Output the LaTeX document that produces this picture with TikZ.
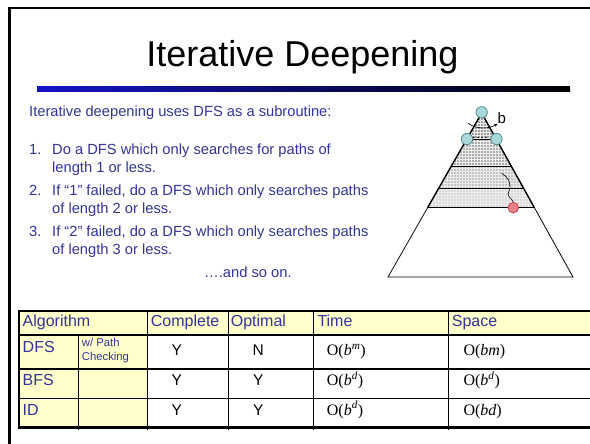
\documentclass[tikz,border=0pt]{standalone}
\usepackage{fontspec}
\setmainfont{Liberation Sans}
\newfontfamily\tmsfont{Liberation Serif}
\usetikzlibrary{arrows.meta,patterns}
\definecolor{txtblue}{RGB}{51,51,153}
\definecolor{cellyellow}{RGB}{255,255,204}
\definecolor{tealfill}{RGB}{168,216,218}
\definecolor{tealedge}{RGB}{80,130,135}
\definecolor{redfill}{RGB}{240,128,135}
\definecolor{rededge}{RGB}{190,60,70}
\begin{document}
\begin{tikzpicture}[x=1pt,y=-1pt,
  txt/.style={inner sep=0pt, anchor=base west, text=txtblue, font=\fontsize{14.7}{17}\selectfont},
  hdr/.style={inner sep=0pt, anchor=base west, text=txtblue, font=\fontsize{16}{18}\selectfont},
  small/.style={inner sep=0pt, anchor=base west, text=txtblue, font=\fontsize{11.3}{13}\selectfont},
  yn/.style={inner sep=0pt, anchor=base, font=\fontsize{15.5}{18}\selectfont},
  cplx/.style={inner sep=0pt, anchor=base west, font=\tmsfont\fontsize{16}{18}\selectfont},
  tealcirc/.style={circle, draw=tealedge, fill=tealfill, line width=0.7pt, minimum size=11.4pt, inner sep=0pt},
  redcirc/.style={circle, draw=rededge, fill=redfill, line width=0.7pt, minimum size=10.6pt, inner sep=0pt},
  band/.style={pattern=grid, pattern color=white!85!gray},
  thinline/.style={line width=1.1pt}]
\useasboundingbox (0,0) rectangle (590,444);
\fill[white] (0,0) rectangle (590,444);
% slide border
\draw[line width=2pt] (8,8) -- (590,8);
\draw[line width=3pt] (9.5,7) -- (9.5,444);
% title
\node[inner sep=0pt, anchor=base, font=\fontsize{36}{40}\selectfont] (title) at (302.5,67) {Iterative Deepening};
\shade[left color={rgb,255:red,20;green,20;blue,200}, right color=black] (37,86.7) rectangle (570,91.2);
% body text
\node[txt] (intro) at (29,116.5) {Iterative deepening uses DFS as a subroutine:};
\node[txt] (n1) at (29,154.3) {1.};
\node[txt] (l1a) at (52,154.3) {Do a DFS which only searches for paths of};
\node[txt] (l1b) at (52,172.3) {length 1 or less.};
\node[txt] (n2) at (29,196) {2.};
\node[txt] (l2a) at (52,196) {If “1” failed, do a DFS which only searches paths};
\node[txt] (l2b) at (52,213.5) {of length 2 or less.};
\node[txt] (n3) at (29,236.8) {3.};
\node[txt] (l3a) at (52,236.8) {If “2” failed, do a DFS which only searches paths};
\node[txt] (l3b) at (52,254.8) {of length 3 or less.};
\node[txt] (soon) at (204,277.3) {….and so on.};
% triangle
\begin{scope}
\clip (481.7,113) -- (388,277) -- (573,277) -- cycle;
\fill[gray!75] (380,100) rectangle (590,139);
\fill[gray!64] (380,139) rectangle (590,166.7);
\fill[gray!46] (380,166.7) rectangle (590,188.3);
\fill[gray!30] (380,188.3) rectangle (590,207.7);
\fill[band] (380,100) rectangle (590,207.7);
\draw[line width=0.8pt] (380,139) -- (590,139);
\draw[line width=0.8pt] (380,166.7) -- (590,166.7);
\draw[line width=0.8pt] (380,188.3) -- (590,188.3);
\draw[line width=0.8pt] (380,207.7) -- (590,207.7);
\end{scope}
\draw[line width=0.8pt] (481.7,113) -- (388,277) -- (573,277) -- cycle;
\draw[line width=1.3pt] (427.6,207.7) -- (481.7,113) -- (534.4,207.7);
\foreach \xx in {474,478,482,486} \fill (\xx,137.3) circle (0.8);
\node[tealcirc] (root) at (481.7,112.3) {};
\node[tealcirc] (cl) at (467,139) {};
\node[tealcirc] (cr) at (496.5,139) {};
\node[inner sep=0pt, anchor=base west, font=\fontsize{15}{16}\selectfont] (b) at (497.5,123.5) {b};
\coordinate (arcstart) at (468.3,123.3);
\draw[line width=0.6pt, -{Stealth[length=3.5pt,width=3pt]}] (arcstart) .. controls (476,129.5) and (489,129) .. (b.south west);
\node[redcirc] (goal) at (513.3,207.7) {};
\coordinate (wstart) at (501.7,173.3);
\draw[line width=0.6pt] (wstart) .. controls (508,177) and (512,183) .. (509,191) .. controls (506,197) and (512,198) .. (goal.north);
% table fills
\fill[cellyellow] (19,310.7) rectangle (590,335);
\fill[cellyellow] (19,335) rectangle (147.3,427.3);
% table lines
\draw[thinline] (19,335) -- (590,335);
\draw[thinline] (19,369) -- (590,369);
\draw[thinline] (19,398.3) -- (590,398.3);
\draw[thinline] (78.3,335) -- (78.3,430);
\foreach \xx in {147.3,228.7,313.3,448.7} \draw[thinline] (\xx,310.7) -- (\xx,430);
\draw[line width=2pt] (19,310.7) -- (590,310.7);
\draw[line width=3pt] (19,427.3) -- (590,427.3);
\draw[line width=2pt] (19,309.7) -- (19,428.8);
% table text
\node[hdr] (hAlg) at (22.5,326.5) {Algorithm};
\node[hdr] (hCom) at (150.7,326.5) {Complete};
\node[hdr] (hOpt) at (230.7,326.5) {Optimal};
\node[hdr] (hTim) at (317.3,326.5) {Time};
\node[hdr] (hSpa) at (451.7,326.5) {Space};
\node[hdr] (dfs) at (22.5,352.5) {DFS};
\node[small] (wp1) at (81.7,346) {w/ Path};
\node[small] (wp2) at (81.7,360) {Checking};
\node[hdr] (bfs) at (22.5,385.7) {BFS};
\node[hdr] (id) at (22.5,415) {ID};
\node[yn] (c1) at (176.7,355.5) {Y};
\node[yn] (o1) at (258.3,355.5) {N};
\node[yn] (c2) at (176.7,385.7) {Y};
\node[yn] (o2) at (258.3,385.7) {Y};
\node[yn] (c3) at (176.7,415.5) {Y};
\node[yn] (o3) at (258.3,415.5) {Y};
\node[cplx] (t1) at (326.7,355.7) {O(\textit{b}\textsuperscript{\textit{m}})};
\node[cplx] (s1) at (463.3,355.7) {O(\textit{bm})};
\node[cplx] (t2) at (326.7,385.7) {O(\textit{b}\textsuperscript{\textit{d}})};
\node[cplx] (s2) at (463.3,385.7) {O(\textit{b}\textsuperscript{\textit{d}})};
\node[cplx] (t3) at (326.7,415) {O(\textit{b}\textsuperscript{\textit{d}})};
\node[cplx] (s3) at (463.3,415) {O(\textit{bd})};
\end{tikzpicture}
\end{document}
